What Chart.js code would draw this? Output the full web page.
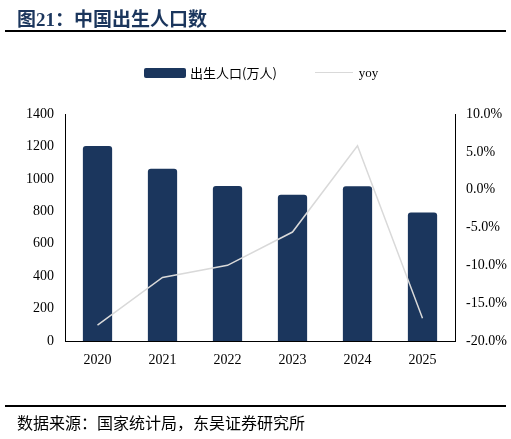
<!DOCTYPE html><html><head><meta charset="utf-8">
<script src="https://cdn.jsdelivr.net/npm/chart.js@4"></script>
<style>body{margin:0;width:511px;height:439px;position:relative;background:#fff;overflow:hidden;font-family:"Liberation Serif","Noto Sans CJK SC",serif}
#t{position:absolute;left:17px;top:4px;font-size:19px;font-weight:bold;color:#1b365d;font-family:"Liberation Serif","Noto Sans CJK SC",serif}
.hr{position:absolute;left:5px;width:501px;height:2px;background:#000}
#s{position:absolute;left:17px;top:410px;font-size:16px;color:#000;font-family:"Noto Sans CJK SC",serif}
#lg{position:absolute;top:63px;left:144px;font-size:13px;display:flex;align-items:center}
canvas{position:absolute;left:0;top:0}</style></head><body>
<canvas id="c" width="511" height="439"></canvas>
<div id="t">图21：中国出生人口数</div><div class="hr" style="top:30px"></div>
<div id="lg"><span style="display:inline-block;width:42px;height:10px;background:#1b365d;border-radius:2px;margin-right:4px"></span><span style="font-family:'Noto Sans CJK SC'">出生人口(万人)</span><span style="display:inline-block;width:38px;height:1px;background:#d9d9d9;margin:0 6px 0 38px"></span>yoy</div>
<div class="hr" style="top:405px"></div>
<div id="s">数据来源：国家统计局，东吴证券研究所</div>
<script>
const years=["2020","2021","2022","2023","2024","2025"];
const births=[1202,1062,956,902,954,792];
const yoy=[-17.9,-11.6,-10.0,-5.6,5.8,-17.0];
const font={family:"Liberation Serif",size:14};
new Chart(document.getElementById('c'),{data:{labels:years,datasets:[
{type:'line',data:yoy,yAxisID:'y1',borderColor:'#d9d9d9',borderWidth:1.5,pointRadius:0,tension:0},
{type:'bar',data:births,yAxisID:'y',backgroundColor:'#1b365d',barPercentage:0.45,categoryPercentage:1,borderRadius:3,borderSkipped:'bottom'}]},
options:{responsive:false,animation:false,layout:{padding:{top:114,left:0,right:0,bottom:0}},plugins:{legend:{display:false},tooltip:{enabled:false}},
scales:{x:{grid:{display:false,drawTicks:true},border:{color:'#000'},ticks:{color:'#000',font},afterFit:s=>{s.height=98}},
y:{min:0,max:1400,ticks:{stepSize:200,color:'#000',font,callback:v=>String(v)},grid:{display:false},border:{color:'#000'},afterFit:s=>{s.width=65}},
y1:{position:'right',min:-20,max:10,ticks:{stepSize:5,color:'#000',font,callback:v=>v.toFixed(1)+'%'},grid:{display:false},border:{color:'#000'},afterFit:s=>{s.width=56}}}}});
</script></body></html>
